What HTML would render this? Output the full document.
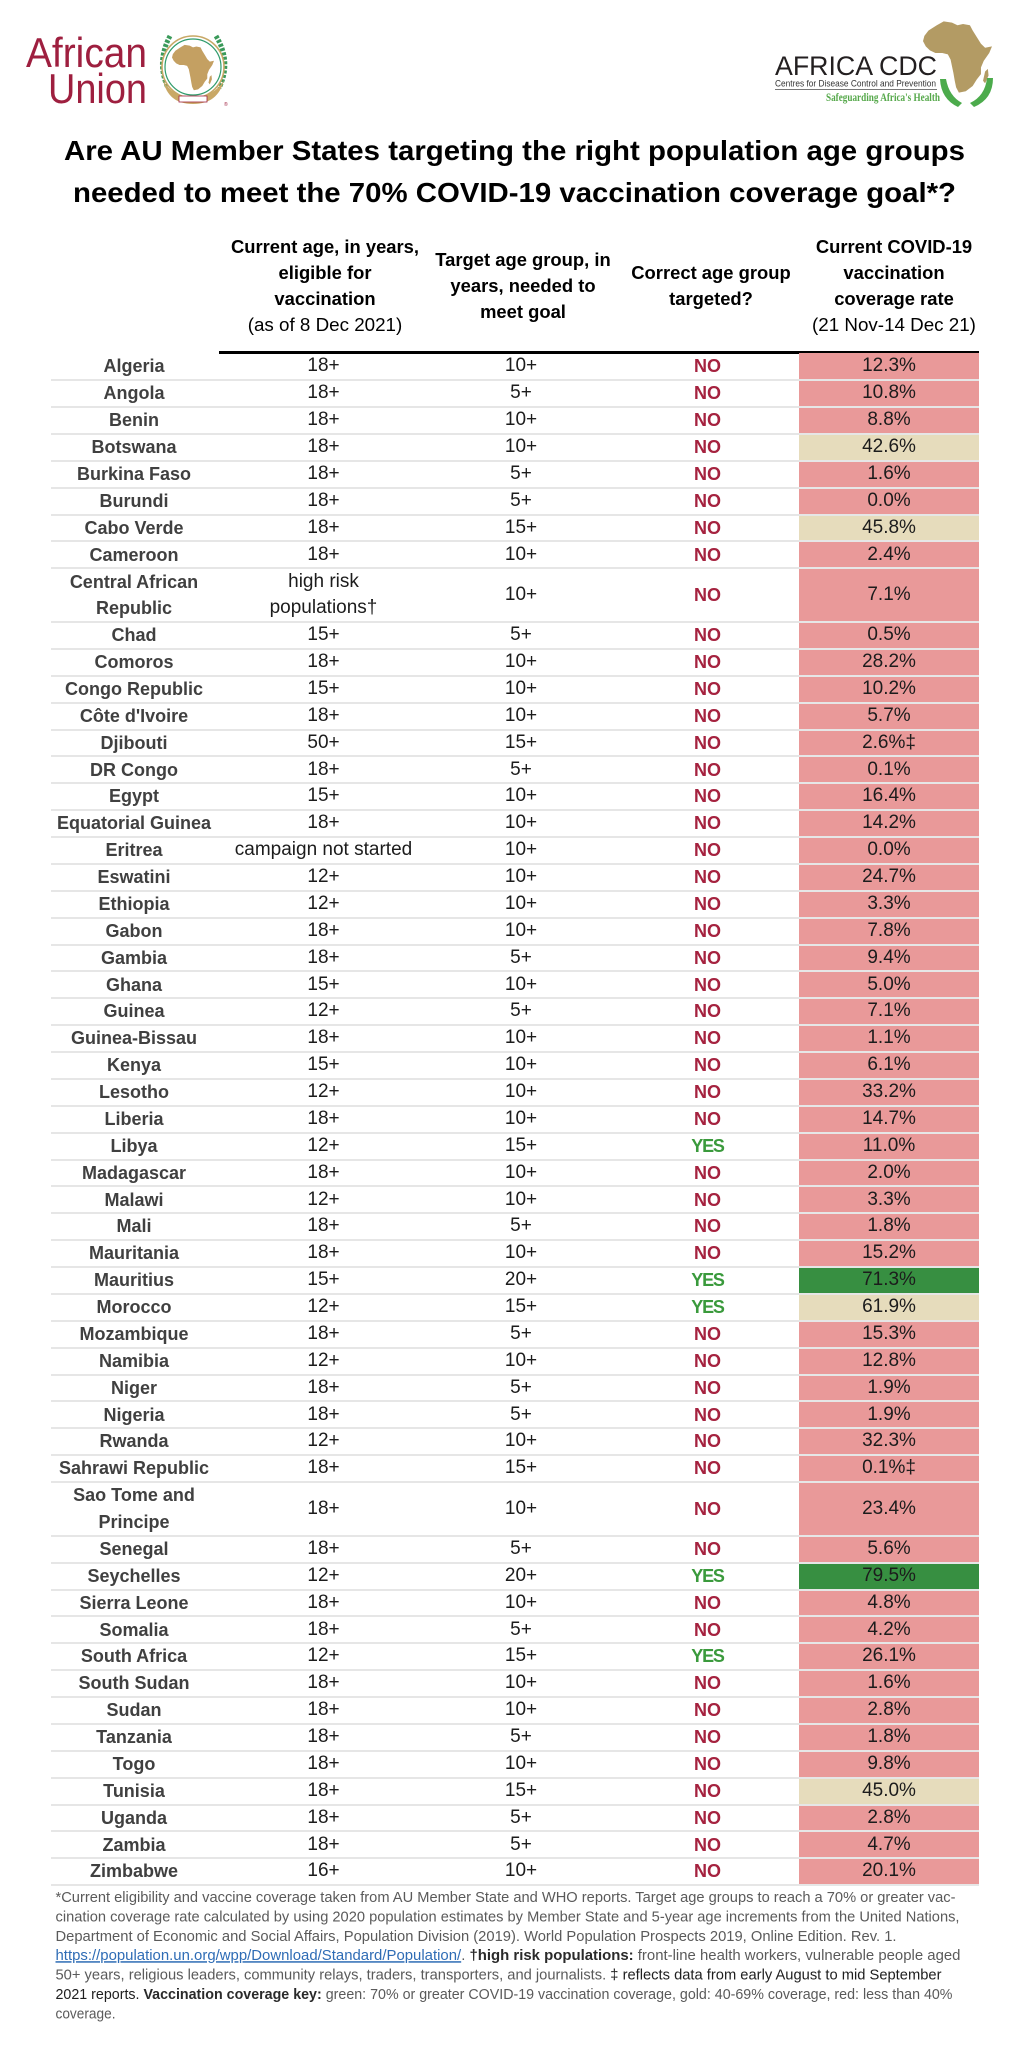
<!DOCTYPE html>
<html>
<head>
<meta charset="utf-8">
<style>
html,body{margin:0;padding:0}
body{width:1024px;height:2048px;position:relative;background:#fff;font-family:"Liberation Sans",sans-serif;overflow:hidden}
.top{position:absolute;left:0;top:0}
.hl{position:absolute;left:219px;top:351px;width:760px;height:2.5px;background:#000}
.h{position:absolute;top:221px;height:130px;display:flex;flex-direction:column;justify-content:center;align-items:center;text-align:center;font-size:18.4px;line-height:26px;font-weight:bold;color:#000;white-space:nowrap}
.h .reg{font-weight:normal;font-size:18.8px}
.t{position:absolute;left:51px;top:353.3px;width:928px}
.r{position:relative;display:flex;height:26.88px}
.r.d{height:53.76px}
.r::after{content:"";position:absolute;left:0;right:0;bottom:-1px;height:2px;background:#e6e6e6;z-index:2}
.r>div{display:flex;flex-direction:column;align-items:center;justify-content:center;text-align:center;line-height:26.6px;font-size:19px;color:#1c1c1c;white-space:nowrap;box-sizing:border-box}
.r>.c0{width:166px;font-weight:bold;font-size:18px;color:#404040}
.r>.c1{width:213px}
.r>.c2{width:182px}
.r>.c3{width:187px;font-weight:bold;font-size:18px;padding-left:4px}
.r>.c4{width:180px}
.r>.n{color:#a5223f}
.r>.y{color:#3a9a3c;letter-spacing:-1.2px}
.r>.R{background:#e99999}
.r>.G{background:#e6dcbc}
.r>.E{background:#378f41}
.fn{position:absolute;left:0;top:1885px}
</style>
</head>
<body>

<svg class="top" width="1024" height="220" viewBox="0 0 1024 220" xmlns="http://www.w3.org/2000/svg">
  <!-- African Union logo -->
  <text x="26" y="67" font-family="Liberation Sans, sans-serif" font-size="42" fill="#9e1f3f" textLength="121" lengthAdjust="spacingAndGlyphs">African</text>
  <text x="48" y="103" font-family="Liberation Sans, sans-serif" font-size="42" fill="#9e1f3f" textLength="99" lengthAdjust="spacingAndGlyphs">Union</text>
  <g>
    <!-- laurels -->
    <path d="M 170 36 Q 156 62 168 88" stroke="#3a9a5a" stroke-width="5" stroke-dasharray="3 1.5" fill="none"/>
    <path d="M 216 36 Q 232 62 219 88" stroke="#3a9a5a" stroke-width="5" stroke-dasharray="3 1.5" fill="none"/>
    <!-- gold base -->
    <path d="M 163 80 Q 168 104 193 104 Q 218 104 224 80 Q 214 97 193 97 Q 172 97 163 80 Z" fill="#c9a866"/>
    <circle cx="193" cy="67" r="31" fill="#fff" stroke="#c8a866" stroke-width="1.6"/>
    <circle cx="193" cy="67" r="28" fill="none" stroke="#2f9b6b" stroke-width="1.2"/>
    <g transform="translate(172,44) scale(0.42)">
      <path d="M 20 8 L 30 2 L 42 4 L 50 8 L 58 6 L 68 8 L 72 16 L 78 26 L 84 36 L 90 42 L 100 40 L 96 50 L 88 62 L 84 72 L 84 82 L 78 90 L 72 100 L 62 108 L 52 110 L 48 102 L 46 92 L 44 80 L 42 70 L 40 60 L 36 52 L 28 50 L 18 50 L 10 46 L 4 40 L 0 32 L 2 24 L 8 16 Z" fill="#c4a062"/>
      <path d="M 90 78 L 94 74 L 95 84 L 90 96 L 87 92 Z" fill="#c4a062"/>
    </g>
    <rect x="179" y="96" width="28" height="6" fill="#fff" stroke="#a0233f" stroke-width="0.8"/>
    <text x="224" y="106" font-family="Liberation Sans, sans-serif" font-size="5" fill="#9e1f3f">®</text>
  </g>

  <!-- Africa CDC logo -->
  <g transform="translate(923,20) scale(0.69,0.66)">
    <path d="M 20 8 L 30 2 L 42 4 L 50 8 L 58 6 L 68 8 L 72 16 L 78 26 L 84 36 L 90 42 L 100 40 L 96 50 L 88 62 L 84 72 L 84 82 L 78 90 L 72 100 L 62 108 L 52 110 L 48 102 L 46 92 L 44 80 L 42 70 L 40 60 L 36 52 L 28 50 L 18 50 L 10 46 L 4 40 L 0 32 L 2 24 L 8 16 Z" fill="#b39b64"/>
    <path d="M 90 78 L 94 74 L 95 84 L 90 96 L 87 92 Z" fill="#b39b64"/>
  </g>
  <path d="M 940 79 Q 941 99 958 107 L 962 103 Q 949 96 946 79 Z" fill="#4cab4c"/>
  <path d="M 993 78 Q 993 99 974 107 L 970 103 Q 985 96 987 78 Z" fill="#4cab4c"/>
  <text x="775" y="75" font-family="Liberation Sans, sans-serif" font-size="27" fill="#231f20" textLength="162" lengthAdjust="spacingAndGlyphs">AFRICA CDC</text>
  <text x="775" y="86.5" font-family="Liberation Sans, sans-serif" font-size="9.5" fill="#333" textLength="161" lengthAdjust="spacingAndGlyphs">Centres for Disease Control and Prevention</text>
  <line x1="775" y1="89.5" x2="937" y2="89.5" stroke="#777" stroke-width="1"/>
  <text x="826" y="101" font-family="Liberation Serif, serif" font-size="12" font-weight="bold" fill="#55a84a" textLength="114" lengthAdjust="spacingAndGlyphs">Safeguarding Africa's Health</text>

  <!-- Title -->
  <text x="64" y="160" font-family="Liberation Sans, sans-serif" font-size="28" font-weight="bold" fill="#000" textLength="901" lengthAdjust="spacingAndGlyphs">Are AU Member States targeting the right population age groups</text>
  <text x="73" y="202" font-family="Liberation Sans, sans-serif" font-size="28" font-weight="bold" fill="#000" textLength="883" lengthAdjust="spacingAndGlyphs">needed to meet the 70% COVID-19 vaccination coverage goal*?</text>
</svg>

<div class="h" style="left:219px;width:212px">
  <div>Current age, in years,</div><div>eligible for</div><div>vaccination</div><div class="reg">(as of 8 Dec 2021)</div>
</div>
<div class="h" style="left:433px;width:180px">
  <div>Target age group, in</div><div>years, needed to</div><div>meet goal</div>
</div>
<div class="h" style="left:620px;width:182px">
  <div>Correct age group</div><div>targeted?</div>
</div>
<div class="h" style="left:804px;width:180px">
  <div>Current COVID-19</div><div>vaccination</div><div>coverage rate</div><div class="reg">(21 Nov-14 Dec 21)</div>
</div>

<div class="hl"></div>

<div class="t">
<div class="r"><div class="c0">Algeria</div><div class="c1">18+</div><div class="c2">10+</div><div class="c3 n">NO</div><div class="c4 R">12.3%</div></div>
<div class="r"><div class="c0">Angola</div><div class="c1">18+</div><div class="c2">5+</div><div class="c3 n">NO</div><div class="c4 R">10.8%</div></div>
<div class="r"><div class="c0">Benin</div><div class="c1">18+</div><div class="c2">10+</div><div class="c3 n">NO</div><div class="c4 R">8.8%</div></div>
<div class="r"><div class="c0">Botswana</div><div class="c1">18+</div><div class="c2">10+</div><div class="c3 n">NO</div><div class="c4 G">42.6%</div></div>
<div class="r"><div class="c0">Burkina Faso</div><div class="c1">18+</div><div class="c2">5+</div><div class="c3 n">NO</div><div class="c4 R">1.6%</div></div>
<div class="r"><div class="c0">Burundi</div><div class="c1">18+</div><div class="c2">5+</div><div class="c3 n">NO</div><div class="c4 R">0.0%</div></div>
<div class="r"><div class="c0">Cabo Verde</div><div class="c1">18+</div><div class="c2">15+</div><div class="c3 n">NO</div><div class="c4 G">45.8%</div></div>
<div class="r"><div class="c0">Cameroon</div><div class="c1">18+</div><div class="c2">10+</div><div class="c3 n">NO</div><div class="c4 R">2.4%</div></div>
<div class="r d"><div class="c0"><div>Central African</div><div>Republic</div></div><div class="c1"><div>high risk</div><div>populations†</div></div><div class="c2">10+</div><div class="c3 n">NO</div><div class="c4 R">7.1%</div></div>
<div class="r"><div class="c0">Chad</div><div class="c1">15+</div><div class="c2">5+</div><div class="c3 n">NO</div><div class="c4 R">0.5%</div></div>
<div class="r"><div class="c0">Comoros</div><div class="c1">18+</div><div class="c2">10+</div><div class="c3 n">NO</div><div class="c4 R">28.2%</div></div>
<div class="r"><div class="c0">Congo Republic</div><div class="c1">15+</div><div class="c2">10+</div><div class="c3 n">NO</div><div class="c4 R">10.2%</div></div>
<div class="r"><div class="c0">Côte d'Ivoire</div><div class="c1">18+</div><div class="c2">10+</div><div class="c3 n">NO</div><div class="c4 R">5.7%</div></div>
<div class="r"><div class="c0">Djibouti</div><div class="c1">50+</div><div class="c2">15+</div><div class="c3 n">NO</div><div class="c4 R">2.6%‡</div></div>
<div class="r"><div class="c0">DR Congo</div><div class="c1">18+</div><div class="c2">5+</div><div class="c3 n">NO</div><div class="c4 R">0.1%</div></div>
<div class="r"><div class="c0">Egypt</div><div class="c1">15+</div><div class="c2">10+</div><div class="c3 n">NO</div><div class="c4 R">16.4%</div></div>
<div class="r"><div class="c0">Equatorial Guinea</div><div class="c1">18+</div><div class="c2">10+</div><div class="c3 n">NO</div><div class="c4 R">14.2%</div></div>
<div class="r"><div class="c0">Eritrea</div><div class="c1">campaign not started</div><div class="c2">10+</div><div class="c3 n">NO</div><div class="c4 R">0.0%</div></div>
<div class="r"><div class="c0">Eswatini</div><div class="c1">12+</div><div class="c2">10+</div><div class="c3 n">NO</div><div class="c4 R">24.7%</div></div>
<div class="r"><div class="c0">Ethiopia</div><div class="c1">12+</div><div class="c2">10+</div><div class="c3 n">NO</div><div class="c4 R">3.3%</div></div>
<div class="r"><div class="c0">Gabon</div><div class="c1">18+</div><div class="c2">10+</div><div class="c3 n">NO</div><div class="c4 R">7.8%</div></div>
<div class="r"><div class="c0">Gambia</div><div class="c1">18+</div><div class="c2">5+</div><div class="c3 n">NO</div><div class="c4 R">9.4%</div></div>
<div class="r"><div class="c0">Ghana</div><div class="c1">15+</div><div class="c2">10+</div><div class="c3 n">NO</div><div class="c4 R">5.0%</div></div>
<div class="r"><div class="c0">Guinea</div><div class="c1">12+</div><div class="c2">5+</div><div class="c3 n">NO</div><div class="c4 R">7.1%</div></div>
<div class="r"><div class="c0">Guinea-Bissau</div><div class="c1">18+</div><div class="c2">10+</div><div class="c3 n">NO</div><div class="c4 R">1.1%</div></div>
<div class="r"><div class="c0">Kenya</div><div class="c1">15+</div><div class="c2">10+</div><div class="c3 n">NO</div><div class="c4 R">6.1%</div></div>
<div class="r"><div class="c0">Lesotho</div><div class="c1">12+</div><div class="c2">10+</div><div class="c3 n">NO</div><div class="c4 R">33.2%</div></div>
<div class="r"><div class="c0">Liberia</div><div class="c1">18+</div><div class="c2">10+</div><div class="c3 n">NO</div><div class="c4 R">14.7%</div></div>
<div class="r"><div class="c0">Libya</div><div class="c1">12+</div><div class="c2">15+</div><div class="c3 y">YES</div><div class="c4 R">11.0%</div></div>
<div class="r"><div class="c0">Madagascar</div><div class="c1">18+</div><div class="c2">10+</div><div class="c3 n">NO</div><div class="c4 R">2.0%</div></div>
<div class="r"><div class="c0">Malawi</div><div class="c1">12+</div><div class="c2">10+</div><div class="c3 n">NO</div><div class="c4 R">3.3%</div></div>
<div class="r"><div class="c0">Mali</div><div class="c1">18+</div><div class="c2">5+</div><div class="c3 n">NO</div><div class="c4 R">1.8%</div></div>
<div class="r"><div class="c0">Mauritania</div><div class="c1">18+</div><div class="c2">10+</div><div class="c3 n">NO</div><div class="c4 R">15.2%</div></div>
<div class="r"><div class="c0">Mauritius</div><div class="c1">15+</div><div class="c2">20+</div><div class="c3 y">YES</div><div class="c4 E">71.3%</div></div>
<div class="r"><div class="c0">Morocco</div><div class="c1">12+</div><div class="c2">15+</div><div class="c3 y">YES</div><div class="c4 G">61.9%</div></div>
<div class="r"><div class="c0">Mozambique</div><div class="c1">18+</div><div class="c2">5+</div><div class="c3 n">NO</div><div class="c4 R">15.3%</div></div>
<div class="r"><div class="c0">Namibia</div><div class="c1">12+</div><div class="c2">10+</div><div class="c3 n">NO</div><div class="c4 R">12.8%</div></div>
<div class="r"><div class="c0">Niger</div><div class="c1">18+</div><div class="c2">5+</div><div class="c3 n">NO</div><div class="c4 R">1.9%</div></div>
<div class="r"><div class="c0">Nigeria</div><div class="c1">18+</div><div class="c2">5+</div><div class="c3 n">NO</div><div class="c4 R">1.9%</div></div>
<div class="r"><div class="c0">Rwanda</div><div class="c1">12+</div><div class="c2">10+</div><div class="c3 n">NO</div><div class="c4 R">32.3%</div></div>
<div class="r"><div class="c0">Sahrawi Republic</div><div class="c1">18+</div><div class="c2">15+</div><div class="c3 n">NO</div><div class="c4 R">0.1%‡</div></div>
<div class="r d"><div class="c0"><div>Sao Tome and</div><div>Principe</div></div><div class="c1">18+</div><div class="c2">10+</div><div class="c3 n">NO</div><div class="c4 R">23.4%</div></div>
<div class="r"><div class="c0">Senegal</div><div class="c1">18+</div><div class="c2">5+</div><div class="c3 n">NO</div><div class="c4 R">5.6%</div></div>
<div class="r"><div class="c0">Seychelles</div><div class="c1">12+</div><div class="c2">20+</div><div class="c3 y">YES</div><div class="c4 E">79.5%</div></div>
<div class="r"><div class="c0">Sierra Leone</div><div class="c1">18+</div><div class="c2">10+</div><div class="c3 n">NO</div><div class="c4 R">4.8%</div></div>
<div class="r"><div class="c0">Somalia</div><div class="c1">18+</div><div class="c2">5+</div><div class="c3 n">NO</div><div class="c4 R">4.2%</div></div>
<div class="r"><div class="c0">South Africa</div><div class="c1">12+</div><div class="c2">15+</div><div class="c3 y">YES</div><div class="c4 R">26.1%</div></div>
<div class="r"><div class="c0">South Sudan</div><div class="c1">18+</div><div class="c2">10+</div><div class="c3 n">NO</div><div class="c4 R">1.6%</div></div>
<div class="r"><div class="c0">Sudan</div><div class="c1">18+</div><div class="c2">10+</div><div class="c3 n">NO</div><div class="c4 R">2.8%</div></div>
<div class="r"><div class="c0">Tanzania</div><div class="c1">18+</div><div class="c2">5+</div><div class="c3 n">NO</div><div class="c4 R">1.8%</div></div>
<div class="r"><div class="c0">Togo</div><div class="c1">18+</div><div class="c2">10+</div><div class="c3 n">NO</div><div class="c4 R">9.8%</div></div>
<div class="r"><div class="c0">Tunisia</div><div class="c1">18+</div><div class="c2">15+</div><div class="c3 n">NO</div><div class="c4 G">45.0%</div></div>
<div class="r"><div class="c0">Uganda</div><div class="c1">18+</div><div class="c2">5+</div><div class="c3 n">NO</div><div class="c4 R">2.8%</div></div>
<div class="r"><div class="c0">Zambia</div><div class="c1">18+</div><div class="c2">5+</div><div class="c3 n">NO</div><div class="c4 R">4.7%</div></div>
<div class="r"><div class="c0">Zimbabwe</div><div class="c1">16+</div><div class="c2">10+</div><div class="c3 n">NO</div><div class="c4 R">20.1%</div></div>
</div>

<svg class="fn" width="1024" height="163" viewBox="0 0 1024 163" xmlns="http://www.w3.org/2000/svg" font-family="Liberation Sans, sans-serif" font-size="15" fill="#5a5a5a">
  <text x="55.5" y="17" textLength="900" lengthAdjust="spacingAndGlyphs">*Current eligibility and vaccine coverage taken from AU Member State and WHO reports. Target age groups to reach a 70% or greater vac-</text>
  <text x="55.5" y="36.4" textLength="904" lengthAdjust="spacingAndGlyphs">cination coverage rate calculated by using 2020 population estimates by Member State and 5-year age increments from the United Nations,</text>
  <text x="55.5" y="55.8" textLength="841" lengthAdjust="spacingAndGlyphs">Department of Economic and Social Affairs, Population Division (2019). World Population Prospects 2019, Online Edition. Rev. 1.</text>
  <text x="55.5" y="75.2" textLength="905" lengthAdjust="spacingAndGlyphs"><tspan fill="#2e6cb5" text-decoration="underline">https://population.un.org/wpp/Download/Standard/Population/</tspan>. <tspan fill="#2a2a2a" font-weight="bold">†high risk populations:</tspan> front-line health workers, vulnerable people aged</text>
  <text x="55.5" y="94.6" textLength="886" lengthAdjust="spacingAndGlyphs">50+ years, religious leaders, community relays, traders, transporters, and journalists. <tspan fill="#1e1e1e">‡ reflects data from early August to mid September</tspan></text>
  <text x="55.5" y="114" textLength="897" lengthAdjust="spacingAndGlyphs"><tspan fill="#1e1e1e">2021 reports.</tspan> <tspan fill="#2a2a2a" font-weight="bold">Vaccination coverage key:</tspan> green: 70% or greater COVID-19 vaccination coverage, gold: 40-69% coverage, red: less than 40%</text>
  <text x="55.5" y="133.4" textLength="60" lengthAdjust="spacingAndGlyphs">coverage.</text>
</svg>

</body>
</html>
